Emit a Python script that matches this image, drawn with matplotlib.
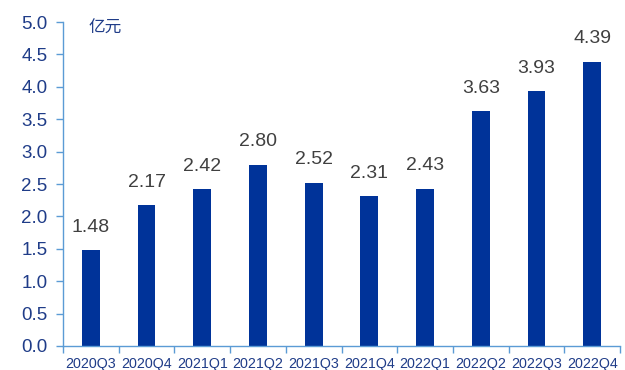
import matplotlib
matplotlib.use("Agg")
import matplotlib.pyplot as plt
import numpy as np

plt.rcParams['font.family'] = ['Liberation Sans', 'Noto Sans CJK SC', 'DejaVu Sans']

quarters = ["2020Q3", "2020Q4", "2021Q1", "2021Q2", "2021Q3",
            "2021Q4", "2022Q1", "2022Q2", "2022Q3", "2022Q4"]
values = [1.48, 2.17, 2.42, 2.80, 2.52, 2.31, 2.43, 3.63, 3.93, 4.39]

bar_color = "#003399"
spine_color = "#5B9BD5"
tick_color = "#1F3C88"

fig = plt.figure(figsize=(6.25, 3.7), dpi=100)
ax = fig.add_axes([0.1008, 0.0649, 0.8912, 0.8756])

x = np.arange(len(quarters))
ax.bar(x, values, width=0.32, color=bar_color)

for xi, v in zip(x, values):
    ax.text(xi, v + 0.22, f"{v:.2f}", ha="center", va="bottom",
            fontsize=14, color="#404040")

ax.set_xlim(-0.5, len(quarters) - 0.5)
ax.set_ylim(0, 5.0)
ax.set_yticks(np.arange(0, 5.01, 0.5))
ax.set_yticklabels([f"{t:.1f}" for t in np.arange(0, 5.01, 0.5)])

ax.set_xticks(x)
ax.set_xticklabels(quarters)
ax.set_xticks(np.arange(-0.5, len(quarters)), minor=True)
ax.tick_params(axis="x", which="major", length=0, labelsize=10.3,
               labelcolor=tick_color, pad=8)
ax.tick_params(axis="x", which="minor", length=5, color=spine_color, width=1)
ax.tick_params(axis="y", length=5, color=spine_color, width=1,
               labelsize=13.5, labelcolor=tick_color, pad=6)

for side in ["top", "right"]:
    ax.spines[side].set_visible(False)
for side in ["left", "bottom"]:
    ax.spines[side].set_color(spine_color)
    ax.spines[side].set_linewidth(1)

ax.text(-0.05, 4.9, "亿元", ha="left", va="center",
        fontsize=12, color=tick_color,
        family=['Noto Sans CJK SC', 'DejaVu Sans'])

fig.savefig("out.png", dpi=100)
